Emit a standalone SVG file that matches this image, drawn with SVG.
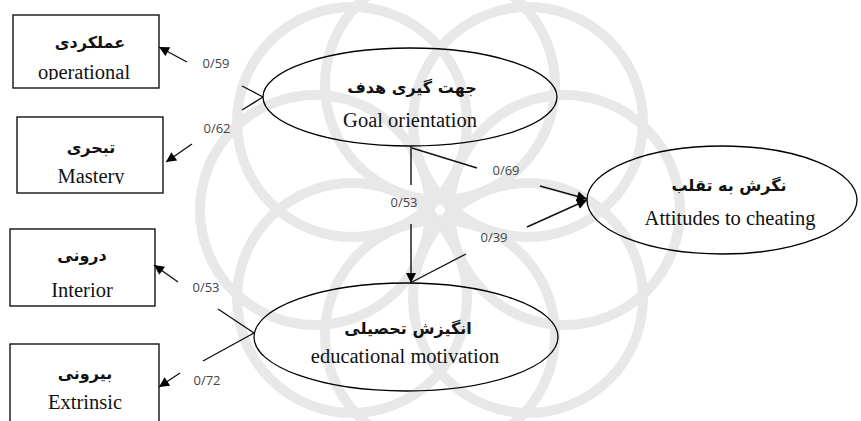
<svg xmlns="http://www.w3.org/2000/svg" width="861" height="421" viewBox="0 0 861 421">
<style>
.box{fill:none;stroke:#000;stroke-width:1.3}
.ell{fill:none;stroke:#000;stroke-width:1.3}
.en{font-family:"Liberation Serif","Times New Roman",serif;font-size:20.5px;fill:#111;text-anchor:middle}
.fa{font-family:"DejaVu Sans",sans-serif;font-weight:bold;font-size:16px;fill:#111;text-anchor:middle}
.lbl{font-family:"Open Sans","Liberation Sans",sans-serif;font-size:13px;fill:#444;text-anchor:middle}
.ln{fill:none;stroke:#111;stroke-width:1.4}
.wm{fill:none;stroke:#e8e8e8;stroke-width:10}
</style>
<defs>
<marker id="ah" viewBox="0 0 10 10" refX="10" refY="5" markerWidth="11" markerHeight="10" markerUnits="userSpaceOnUse" orient="auto">
<path d="M0,0 L10,5 L0,10 z" fill="#000"/>
</marker>
<clipPath id="c1"><rect x="13" y="15" width="146" height="65"/></clipPath>
<clipPath id="c2"><rect x="17" y="117" width="146" height="67"/></clipPath>
</defs>
<rect width="861" height="421" fill="#fff"/>
<g id="watermark">
<circle class="wm" cx="440" cy="85" r="115"/>
<circle class="wm" cx="440" cy="335" r="115"/>
<circle class="wm" cx="315" cy="210" r="115"/>
<circle class="wm" cx="565" cy="210" r="115"/>
<circle class="wm" cx="352" cy="122" r="115"/>
<circle class="wm" cx="528" cy="122" r="115"/>
<circle class="wm" cx="352" cy="298" r="115"/>
<circle class="wm" cx="528" cy="298" r="115"/>
</g>
<g id="connectors">
<line class="ln" x1="263" y1="97" x2="242" y2="86"/>
<line class="ln" x1="187" y1="62" x2="159" y2="47" marker-end="url(#ah)"/>
<line class="ln" x1="263" y1="97" x2="242" y2="110"/>
<line class="ln" x1="192" y1="144" x2="166" y2="162" marker-end="url(#ah)"/>
<line class="ln" x1="254" y1="333" x2="218" y2="309"/>
<line class="ln" x1="178" y1="282" x2="154" y2="265" marker-end="url(#ah)"/>
<line class="ln" x1="254" y1="333" x2="203" y2="361"/>
<line class="ln" x1="180" y1="373" x2="159" y2="387" marker-end="url(#ah)"/>
<line class="ln" x1="411" y1="146" x2="411" y2="185"/>
<line class="ln" x1="411" y1="224" x2="411" y2="283" marker-end="url(#ah)"/>
<line class="ln" x1="412" y1="148" x2="477" y2="168"/>
<line class="ln" x1="540" y1="186" x2="587" y2="199" marker-end="url(#ah)"/>
<line class="ln" x1="412" y1="282" x2="466" y2="254"/>
<line class="ln" x1="527" y1="227" x2="587" y2="200" marker-end="url(#ah)"/>
<text class="lbl" x="216" y="68">0/59</text>
<text class="lbl" x="217" y="133">0/62</text>
<text class="lbl" x="206" y="292">0/53</text>
<text class="lbl" x="207" y="385">0/72</text>
<text class="lbl" x="404" y="207">0/53</text>
<text class="lbl" x="506" y="175">0/69</text>
<text class="lbl" x="494" y="242">0/39</text>
</g>
<g id="operational">
<rect class="box" x="13" y="15" width="146" height="73"/>
<text class="fa" x="90" y="48">عملکردی</text>
<text class="en" x="84" y="79" clip-path="url(#c1)">operational</text>
</g>
<g id="mastery">
<rect class="box" x="17" y="117" width="146" height="76"/>
<text class="fa" x="91" y="153">تبحری</text>
<text class="en" x="91" y="183" clip-path="url(#c2)">Mastery</text>
</g>
<g id="interior">
<rect class="box" x="10" y="229" width="145" height="77"/>
<text class="fa" x="82" y="261">درونی</text>
<text class="en" x="82" y="297">Interior</text>
</g>
<g id="extrinsic">
<rect class="box" x="10" y="344" width="149" height="90"/>
<text class="fa" x="85" y="379">بیرونی</text>
<text class="en" x="85" y="409">Extrinsic</text>
</g>
<g id="goal">
<ellipse class="ell" cx="410" cy="97" rx="147" ry="49"/>
<text class="fa" x="412" y="93">جهت گیری هدف</text>
<text class="en" x="410" y="127">Goal orientation</text>
</g>
<g id="motivation">
<ellipse class="ell" cx="406" cy="337" rx="152" ry="54"/>
<text class="fa" x="408" y="334">انگیزش تحصیلی</text>
<text class="en" x="405" y="363">educational motivation</text>
</g>
<g id="attitudes">
<ellipse class="ell" cx="722" cy="200" rx="135" ry="54"/>
<text class="fa" x="729" y="191">نگرش به تقلب</text>
<text class="en" x="730" y="225">Attitudes to cheating</text>
</g>
</svg>
